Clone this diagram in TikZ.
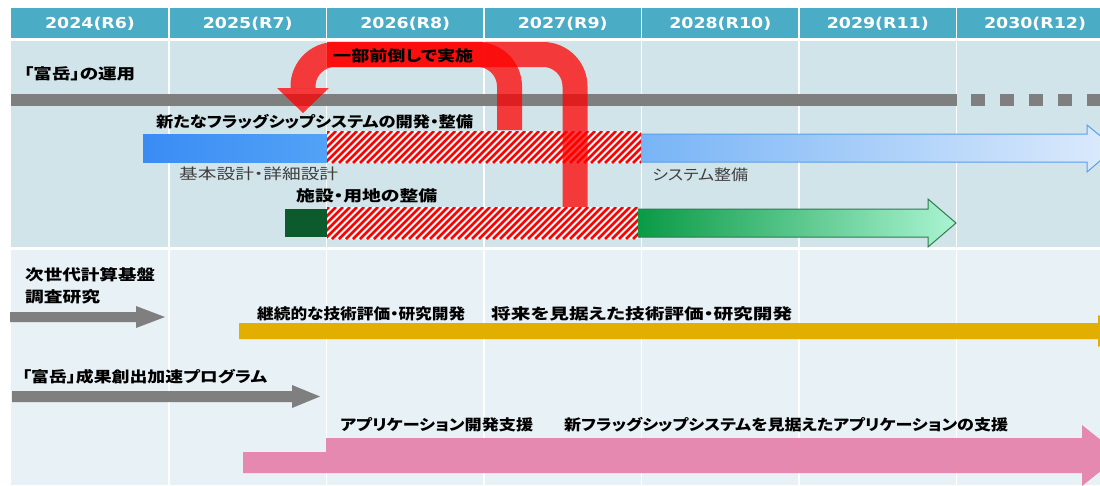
\documentclass[tikz,border=0pt]{standalone}
\usepackage{fontspec}
\usepackage{graphicx}
\newfontfamily\jp{Noto Sans CJK JP}[RawFeature=+palt]
\newfontfamily\hd{DejaVu Sans}
\definecolor{hdrc}{HTML}{4BACC6}
\definecolor{upc}{HTML}{D1E4EA}
\definecolor{loc}{HTML}{E8F1F5}
\definecolor{grayc}{HTML}{7F7F7F}
\definecolor{blueA}{HTML}{3A8CF4}
\definecolor{blueB}{HTML}{52A2F6}
\definecolor{blueL}{HTML}{78B4F6}
\definecolor{blueR}{HTML}{DDEBFC}
\definecolor{blueEdge}{HTML}{5A9EEA}
\definecolor{dkgreen}{HTML}{0C5B2C}
\definecolor{greenL}{HTML}{0A9A46}
\definecolor{greenR}{HTML}{AAF4D2}
\definecolor{greenEdge}{HTML}{2F7A4E}
\definecolor{yellowc}{HTML}{E2AF00}
\definecolor{pinkc}{HTML}{E689B1}
\definecolor{arrred}{HTML}{FF0000}
\definecolor{subgray}{HTML}{3F3F3F}
\newcommand\fitw[2]{\resizebox{#1pt}{\height}{#2}}
\begin{document}
\begin{tikzpicture}[x=1pt,y=-1pt,
  lbl/.style={anchor=west,inner sep=0pt,text=black,font=\jp\bfseries\fontsize{15}{15}\selectfont},
  sublbl/.style={anchor=west,inner sep=0pt,text=subgray,font=\jp\fontsize{15}{15}\selectfont},
  hdr/.style={inner sep=0pt,text=white,font=\hd\bfseries\fontsize{15}{15}\selectfont},
  redpath/.style={draw=arrred,draw opacity=0.75,line width=25pt,rounded corners=32pt},
  redhead/.style={fill=arrred,fill opacity=0.75},
  colline/.style={white,line width=1.6pt}]
\useasboundingbox (0,0) rectangle (1100,485);
\clip (0,0) rectangle (1100,485);
\fill[white] (0,0) rectangle (1100,485);
% panels
\fill[hdrc] (11,8) rectangle (1100,38);
\fill[upc] (11,41) rectangle (1100,247);
\fill[loc] (11,250) rectangle (1100,485);
\foreach \x in {169,326.5,484,641.5,799,956.5} {
  \draw[colline] (\x,8) -- (\x,38);
  \draw[colline] (\x,41) -- (\x,247);
  \draw[colline] (\x,250) -- (\x,485);
}
% header labels
\node[hdr] (h1) at (90,23.5) {\scalebox{1.16}[1]{2024(R6)}};
\node[hdr] (h2) at (247.75,23.5) {\scalebox{1.16}[1]{2025(R7)}};
\node[hdr] (h3) at (405.25,23.5) {\scalebox{1.16}[1]{2026(R8)}};
\node[hdr] (h4) at (562.75,23.5) {\scalebox{1.16}[1]{2027(R9)}};
\node[hdr] (h5) at (720.25,23.5) {\scalebox{1.16}[1]{2028(R10)}};
\node[hdr] (h6) at (877.75,23.5) {\scalebox{1.16}[1]{2029(R11)}};
\node[hdr] (h7) at (1035,23.5) {\scalebox{1.16}[1]{2030(R12)}};
% Fugaku operation bar
\fill[grayc] (11,94) rectangle (957,106);
\foreach \x in {971,1000,1029,1058,1087} \fill[grayc] (\x,94) rectangle (\x+14,106);
% flagship row
\shade[left color=blueA,right color=blueB] (143,134) rectangle (327,162);
\begin{scope}
  \clip (327,131) rectangle (641,163);
  \fill[white] (327,131) rectangle (641,163);
  \foreach \x in {290,297,...,648} \draw[arrred,line width=2.6pt] (\x,163) -- ++(32,-32);
\end{scope}
\shade[left color=blueL,right color=blueR] (641,134) -- (1087,134) -- (1087,125) -- (1115,148) -- (1087,172) -- (1087,162) -- (641,162) -- cycle;
\draw[blueEdge,line width=1pt] (641,134) -- (1087,134) -- (1087,125) -- (1115,148) -- (1087,172) -- (1087,162) -- (641,162);
% facility row
\fill[dkgreen] (285,209) rectangle (327,237);
\begin{scope}
  \clip (327,207) rectangle (638,239);
  \fill[white] (327,207) rectangle (638,239);
  \foreach \x in {290,297,...,648} \draw[arrred,line width=2.6pt] (\x,239) -- ++(32,-32);
\end{scope}
\shade[left color=greenL,right color=greenR] (638,209) -- (928,209) -- (928,199) -- (956,223) -- (928,247) -- (928,237) -- (638,237) -- cycle;
\draw[greenEdge,line width=1pt] (638,209) -- (928,209) -- (928,199) -- (956,223) -- (928,247) -- (928,237) -- (638,237);
% red arrow (partly brought forward)
\draw[redpath] (575,207) -- (575,54.5) -- (303,54.5) -- (303,88);
\draw[redpath] (509.5,130) -- (509.5,54.5) -- (327,54.5);
\fill[redhead] (277,88) -- (329,88) -- (303,113) -- cycle;
% lower panel arrows
\fill[grayc] (10,312) -- (136,312) -- (136,306) -- (165,317) -- (136,328) -- (136,322) -- (10,322) -- cycle;
\fill[grayc] (12,391) -- (292,391) -- (292,385) -- (320,396.5) -- (292,408) -- (292,402) -- (12,402) -- cycle;
\fill[yellowc] (239,323) -- (1098,323) -- (1098,315) -- (1126,331) -- (1098,347) -- (1098,339) -- (239,339) -- cycle;
\fill[pinkc] (243,452) -- (326,452) -- (326,438) -- (1082,438) -- (1082,425) -- (1120,455.5) -- (1082,486) -- (1082,473) -- (243,473) -- cycle;
% labels
\node[lbl] (opr) at (24,74) {\fitw{111}{「富岳」の運用}};
\node[lbl] (fwd) at (333,56) {\fitw{140}{一部前倒しで実施}};
\node[lbl] (flag) at (156,122) {\fitw{317}{新たなフラッグシップシステムの開発・整備}};
\node[sublbl] (design) at (179,174) {\fitw{159}{基本設計・詳細設計}};
\node[sublbl] (sys) at (652,175) {\fitw{96}{システム整備}};
\node[lbl] (fac) at (296,196) {\fitw{141}{施設・用地の整備}};
\node[lbl] (next1) at (25,275) {\fitw{130}{次世代計算基盤}};
\node[lbl] (next2) at (25,297) {\fitw{75}{調査研究}};
\node[lbl] (tech1) at (257,314) {\fitw{208}{継続的な技術評価・研究開発}};
\node[lbl] (tech2) at (491,314) {\fitw{301}{将来を見据えた技術評価・研究開発}};
\node[lbl] (prog) at (22,377) {\fitw{245}{「富岳」成果創出加速プログラム}};
\node[lbl] (app1) at (340,425) {\fitw{193}{アプリケーション開発支援}};
\node[lbl] (app2) at (564,425) {\fitw{444}{新フラッグシップシステムを見据えたアプリケーションの支援}};
\end{tikzpicture}
\end{document}
